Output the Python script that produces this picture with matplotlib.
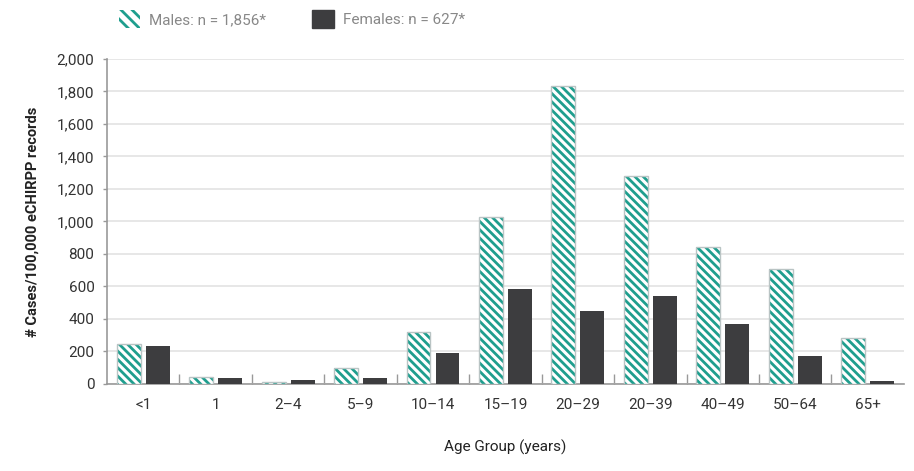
import numpy as np
import matplotlib.pyplot as plt
from matplotlib.patches import Patch

plt.rcParams['font.family'] = ['Roboto', 'DejaVu Sans']
plt.rcParams['hatch.linewidth'] = 2.0

groups = ["<1", "1", "2\u20134", "5\u20139", "10\u201314", "15\u201319",
          "20\u201329", "20\u201339", "40\u201349", "50\u201364", "65+"]
males = [246, 42, 12, 98, 320, 1025, 1835, 1277, 843, 708, 283]
females = [234, 37, 25, 37, 190, 585, 449, 541, 369, 172, 18]

teal = "#1f9e8e"
dark = "#3d3d3f"
grid_c = "#e3e3e3"
axis_c = "#999999"
hatch = "\\" * 4

fig = plt.figure(figsize=(9.14, 4.71), dpi=100)
ax = fig.add_axes([0.117, 0.185, 0.872, 0.69])

x = np.arange(len(groups))
w = 0.33
# hatched male bars: fill white with teal stripes, then grey outline on top
ax.bar(x - 0.2, males, w, color="white", hatch=hatch, edgecolor=teal, linewidth=0, zorder=3)
ax.bar(x - 0.2, males, w, color="none", edgecolor="#b9c4c4", linewidth=1.0, zorder=4)
ax.bar(x + 0.2, females, w, color=dark, linewidth=0, zorder=3)

ax.set_xlim(-0.5, len(groups) - 0.5)
ax.set_ylim(0, 2000)
ax.set_yticks(range(0, 2001, 200))
ax.set_yticklabels([f"{v:,}" for v in range(0, 2001, 200)], fontsize=11, color="#333333")
ax.yaxis.grid(True, color=grid_c, linewidth=1.2, zorder=0)
ax.set_axisbelow(True)

ax.set_xticks(x)
ax.set_xticklabels(groups, fontsize=11, color="#333333")
ax.tick_params(axis="x", length=0, pad=10)
ax.set_xticks(np.arange(0.5, len(groups) - 0.5, 1), minor=True)
ax.tick_params(axis="x", which="minor", direction="in", length=7, color=axis_c, width=1)
ax.tick_params(axis="y", length=3, color=axis_c, width=1, pad=6)

for s in ["top", "right"]:
    ax.spines[s].set_visible(False)
ax.spines["left"].set_color(axis_c)
ax.spines["bottom"].set_color(axis_c)
ax.spines["left"].set_linewidth(1.2)
ax.spines["bottom"].set_linewidth(1.2)

ax.set_ylabel("# Cases/100,000 eCHIRPP records", fontsize=10.5, fontweight="bold",
              color="#222222", labelpad=12)
ax.set_xlabel("Age Group (years)", fontsize=11, color="#222222", labelpad=20)

handles = [Patch(facecolor="white", edgecolor=teal, hatch="\\" * 3, linewidth=0),
           Patch(facecolor=dark, edgecolor=dark)]
fig.legend(handles, ["Males: n = 1,856*", "Females: n = 627*"],
           loc="upper left", bbox_to_anchor=(0.115, 1.008), ncol=2, frameon=False,
           fontsize=11, handlelength=1.4, handleheight=1.4, handletextpad=0.6,
           columnspacing=3, labelcolor="#888888")

fig.savefig("out.png", dpi=100)
